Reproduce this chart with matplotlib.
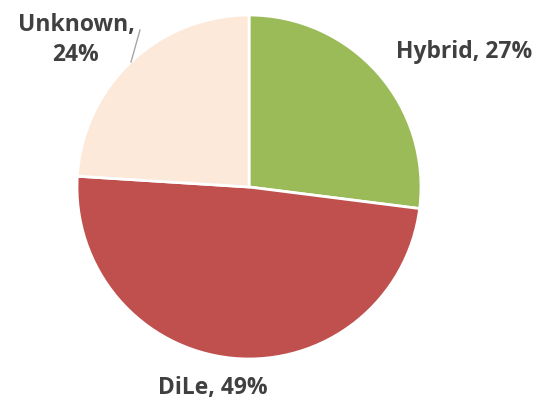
import matplotlib
matplotlib.use("Agg")
import matplotlib.pyplot as plt
import numpy as np

categories = ["Hybrid", "DiLe", "Unknown"]
values = [27, 49, 24]
colors = ["#9BBB59", "#C0504D", "#FDE9D9"]

W, H = 550, 412
fig = plt.figure(figsize=(5.5, 4.12), dpi=100)
ax = fig.add_axes([0, 0, 1, 1])

cx, cy, r = 249, H - 187, 172
ax.pie(values, colors=colors, startangle=90, counterclock=False,
       center=(cx, cy), radius=r, frame=True,
       wedgeprops=dict(edgecolor="white", linewidth=2))
ax.set_xlim(0, W)
ax.set_ylim(0, H)
ax.axis("off")

font = dict(family=["Open Sans", "DejaVu Sans"], fontweight="bold", fontsize=16.5, color="#404040")
labels = [f"{c}, {v}%" for c, v in zip(categories, values)]
ax.text(464, H - 52, labels[0], ha="center", va="center", **font)
ax.text(213, H - 388, labels[1], ha="center", va="center", **font)
ax.text(76, H - 40, f"{categories[2]},\n{values[2]}%", ha="center", va="center",
        linespacing=1.35, **font)
ax.plot([140, 131], [H - 30, H - 62], color="#A6A6A6", lw=1)

fig.savefig("out.png", dpi=100)
